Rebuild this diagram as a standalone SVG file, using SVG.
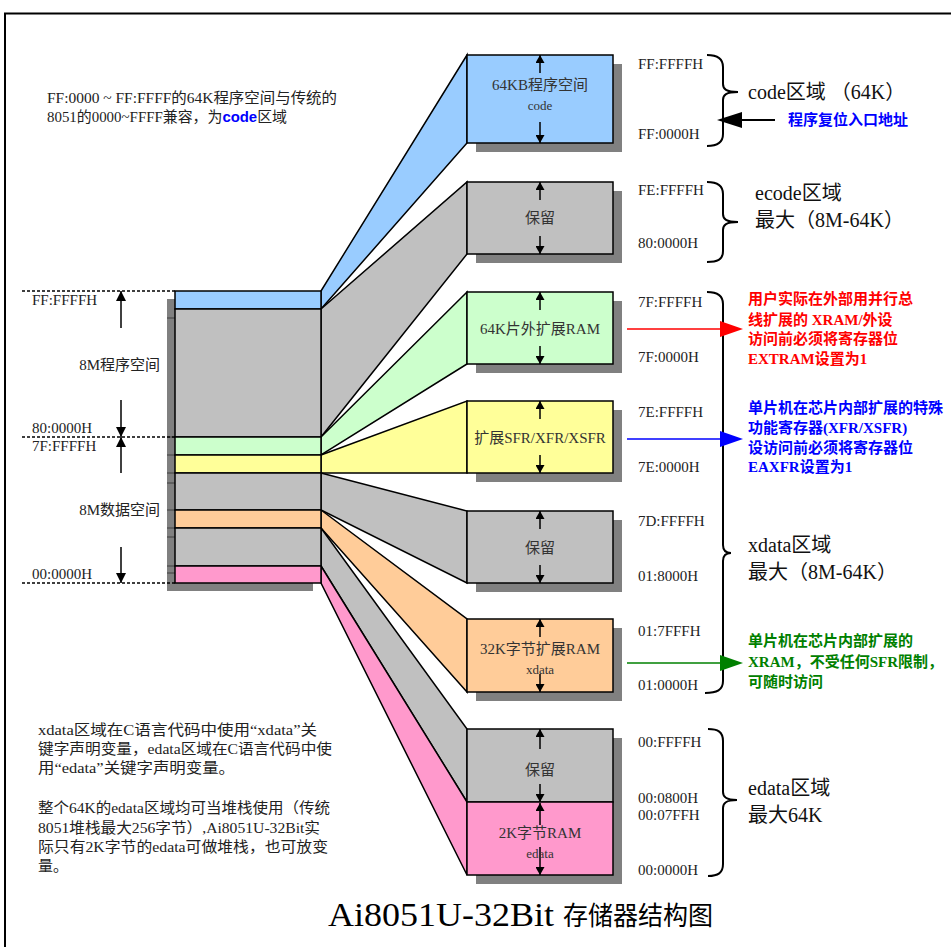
<svg xmlns="http://www.w3.org/2000/svg" width="951" height="947" viewBox="0 0 951 947">
<defs>
<style>
text{font-family:"Liberation Serif","Noto Sans CJK SC",serif}
.addr{font-size:15px;fill:#222}
.lbl{font-size:15px;fill:#333;text-anchor:middle}
.sm{font-size:13px;fill:#333;text-anchor:middle}
.note{font-size:15px;fill:#222}
.big{font-size:20px;fill:#111}
.cn{font-size:15px;font-weight:bold}
.bx{stroke:#000;stroke-width:1.5}
.sh{fill:#808080}
.blue{fill:#99ccff}.gray{fill:#c0c0c0}.green{fill:#ccffcc}.yellow{fill:#ffff99}.orange{fill:#ffcc99}.pink{fill:#ff99cc}
.dot{stroke:#000;stroke-width:1.5;stroke-dasharray:3,2;fill:none}
.brace{fill:none;stroke:#000;stroke-width:2}
.ar{stroke:#000;stroke-width:1.5;fill:none}
.tick{stroke:#555;stroke-width:1.5}
</style>
<marker id="ah" viewBox="0 0 10 10" refX="10" refY="5" markerWidth="8" markerHeight="9" markerUnits="userSpaceOnUse" orient="auto" preserveAspectRatio="none"><path d="M0,0 L10,5 L0,10 z" fill="#000"/></marker>
<marker id="ahL" viewBox="0 0 10 10" refX="10" refY="5" markerWidth="10" markerHeight="10" markerUnits="userSpaceOnUse" orient="auto" preserveAspectRatio="none"><path d="M0,0 L10,5 L0,10 z" fill="#000"/></marker>
</defs>
<rect width="951" height="947" fill="#fff"/>
<!-- frame -->
<path d="M5,947 L5,13.5 L951,13.5" fill="none" stroke="#000" stroke-width="2"/>

<!-- top-left note -->
<g id="note-top">
<text class="note" x="47" y="103" textLength="290" lengthAdjust="spacingAndGlyphs">FF:0000 ~ FF:FFFF的64K程序空间与传统的</text>
<text class="note" x="47" y="122" textLength="240" lengthAdjust="spacingAndGlyphs">8051的0000~FFFF兼容，为<tspan fill="#0000ff" font-weight="bold" font-family="Liberation Sans, sans-serif">code</tspan>区域</text>
</g>

<!-- connectors (trapezoids) -->
<g id="connectors">
<polygon class="bx blue" points="321,291 467,55 467,143 321,309"/>
<polygon class="bx gray" points="321,309 467,182 467,254 321,437"/>
<polygon class="bx green" points="321,437 467,292 467,364 321,455"/>
<polygon class="bx yellow" points="321,455 467,401 467,473 321,473"/>
<polygon class="bx gray" points="321,473 467,511 467,583 321,510"/>
<polygon class="bx orange" points="321,510 467,619 467,692 321,528"/>
<polygon class="bx gray" points="321,528 467,729 467,802 321,566"/>
<polygon class="bx pink" points="321,566 467,802 467,875 321,583"/>
</g>

<!-- left memory bar -->
<g id="left-bar">
<rect class="sh" x="167" y="299" width="146" height="292"/>
<line class="tick" x1="167" y1="318" x2="175" y2="318"/>
<line class="tick" x1="167" y1="437" x2="175" y2="437"/>
<line class="tick" x1="167" y1="455" x2="175" y2="455"/>
<line class="tick" x1="167" y1="473" x2="175" y2="473"/>
<line class="tick" x1="167" y1="483" x2="175" y2="483"/>
<line class="tick" x1="167" y1="510" x2="175" y2="510"/>
<line class="tick" x1="167" y1="528" x2="175" y2="528"/>
<line class="tick" x1="167" y1="537" x2="175" y2="537"/>
<line class="tick" x1="167" y1="566" x2="175" y2="566"/>
<line class="tick" x1="167" y1="573" x2="175" y2="573"/>
<rect class="bx blue" x="175" y="291" width="146" height="18"/>
<rect class="bx gray" x="175" y="309" width="146" height="128"/>
<rect class="bx green" x="175" y="437" width="146" height="18"/>
<rect class="bx yellow" x="175" y="455" width="146" height="18"/>
<rect class="bx gray" x="175" y="473" width="146" height="37"/>
<rect class="bx orange" x="175" y="510" width="146" height="18"/>
<rect class="bx gray" x="175" y="528" width="146" height="38"/>
<rect class="bx pink" x="175" y="566" width="146" height="17"/>
</g>

<g id="left-labels">
<line class="dot" x1="22" y1="291" x2="175" y2="291"/>
<line class="dot" x1="22" y1="437" x2="175" y2="437"/>
<line class="dot" x1="22" y1="583" x2="175" y2="583"/>
<text class="addr" x="32" y="305">FF:FFFFH</text>
<text class="addr" x="32" y="433">80:0000H</text>
<text class="addr" x="32" y="451">7F:FFFFH</text>
<text class="addr" x="32" y="579">00:0000H</text>
<line class="ar" x1="121" y1="328" x2="121" y2="291" marker-end="url(#ahL)"/>
<line class="ar" x1="121" y1="400" x2="121" y2="437" marker-end="url(#ahL)"/>
<line class="ar" x1="121" y1="473" x2="121" y2="437" marker-end="url(#ahL)"/>
<line class="ar" x1="121" y1="547" x2="121" y2="583" marker-end="url(#ahL)"/>
<text class="note" x="160" y="370" text-anchor="end">8M程序空间</text>
<text class="note" x="160" y="515" text-anchor="end">8M数据空间</text>
</g>

<!-- right boxes -->
<g id="box-code">
<rect class="sh" x="476" y="64" width="146" height="88"/>
<rect class="bx blue" x="467" y="55" width="146" height="88"/>
<line class="ar" x1="540" y1="73" x2="540" y2="55" marker-end="url(#ah)"/>
<line class="ar" x1="540" y1="122" x2="540" y2="143" marker-end="url(#ah)"/>
<text class="lbl" x="540" y="90">64KB程序空间</text>
<text class="sm" x="540" y="110">code</text>
</g>
<g id="box-ecode">
<rect class="sh" x="476" y="191" width="146" height="72"/>
<rect class="bx gray" x="467" y="182" width="146" height="72"/>
<line class="ar" x1="540" y1="200" x2="540" y2="182" marker-end="url(#ah)"/>
<line class="ar" x1="540" y1="236" x2="540" y2="254" marker-end="url(#ah)"/>
<text class="lbl" x="540" y="223">保留</text>
</g>
<g id="box-xram">
<rect class="sh" x="476" y="301" width="146" height="72"/>
<rect class="bx green" x="467" y="292" width="146" height="72"/>
<line class="ar" x1="540" y1="310" x2="540" y2="292" marker-end="url(#ah)"/>
<line class="ar" x1="540" y1="346" x2="540" y2="364" marker-end="url(#ah)"/>
<text class="lbl" x="540" y="334">64K片外扩展RAM</text>
</g>
<g id="box-xsfr">
<rect class="sh" x="476" y="410" width="146" height="72"/>
<rect class="bx yellow" x="467" y="401" width="146" height="72"/>
<line class="ar" x1="540" y1="419" x2="540" y2="401" marker-end="url(#ah)"/>
<line class="ar" x1="540" y1="455" x2="540" y2="473" marker-end="url(#ah)"/>
<text class="lbl" x="540" y="443">扩展SFR/XFR/XSFR</text>
</g>
<g id="box-res2">
<rect class="sh" x="476" y="520" width="146" height="72"/>
<rect class="bx gray" x="467" y="511" width="146" height="72"/>
<line class="ar" x1="540" y1="529" x2="540" y2="511" marker-end="url(#ah)"/>
<line class="ar" x1="540" y1="565" x2="540" y2="583" marker-end="url(#ah)"/>
<text class="lbl" x="540" y="553">保留</text>
</g>
<g id="box-xdata">
<rect class="sh" x="476" y="628" width="146" height="73"/>
<rect class="bx orange" x="467" y="619" width="146" height="73"/>
<line class="ar" x1="540" y1="637" x2="540" y2="619" marker-end="url(#ah)"/>
<line class="ar" x1="540" y1="674" x2="540" y2="692" marker-end="url(#ah)"/>
<text class="lbl" x="540" y="654">32K字节扩展RAM</text>
<text class="sm" x="540" y="674">xdata</text>
</g>
<g id="box-edata">
<rect class="sh" x="476" y="738" width="146" height="146"/>
<rect class="bx gray" x="467" y="729" width="146" height="73"/>
<rect class="bx pink" x="467" y="802" width="146" height="73"/>
<line class="ar" x1="540" y1="749" x2="540" y2="729" marker-end="url(#ah)"/>
<line class="ar" x1="540" y1="784" x2="540" y2="802" marker-end="url(#ah)"/>
<line class="ar" x1="540" y1="825" x2="540" y2="803" marker-end="url(#ah)"/>
<line class="ar" x1="540" y1="847" x2="540" y2="875" marker-end="url(#ah)"/>
<text class="lbl" x="540" y="775">保留</text>
<text class="lbl" x="540" y="838">2K字节RAM</text>
<text class="sm" x="540" y="858">edata</text>
</g>

<!-- address labels -->
<g id="addresses">
<text class="addr" x="638" y="69">FF:FFFFH</text>
<text class="addr" x="638" y="139">FF:0000H</text>
<text class="addr" x="638" y="195">FE:FFFFH</text>
<text class="addr" x="638" y="248">80:0000H</text>
<text class="addr" x="638" y="307">7F:FFFFH</text>
<text class="addr" x="638" y="362">7F:0000H</text>
<text class="addr" x="638" y="417">7E:FFFFH</text>
<text class="addr" x="638" y="472">7E:0000H</text>
<text class="addr" x="638" y="526">7D:FFFFH</text>
<text class="addr" x="638" y="581">01:8000H</text>
<text class="addr" x="638" y="636">01:7FFFH</text>
<text class="addr" x="638" y="690">01:0000H</text>
<text class="addr" x="638" y="747">00:FFFFH</text>
<text class="addr" x="638" y="803">00:0800H</text>
<text class="addr" x="638" y="820">00:07FFH</text>
<text class="addr" x="638" y="875">00:0000H</text>
</g>

<!-- braces -->
<g id="braces">
<path class="brace" d="M707,55 C717,55 723,58 723,67 L723,84 C723,89 726,92 738,92 C726,92 723,95 723,100 L723,134 C723,143 717,146 707,146"/>
<path class="brace" d="M707,182 C717,182 723,185 723,194 L723,214 C723,219 726,222 738,222 C726,222 723,225 723,230 L723,251 C723,260 717,262 707,262"/>
<path class="brace" d="M707,292 C717,292 723,295 723,304 L723,545 C723,550 725,553 731,553 C725,553 723,556 723,561 L723,681 C723,690 717,693 705,693"/>
<path class="brace" d="M708,729 C718,729 723,732 723,741 L723,792 C723,797 726,800 737,800 C726,800 723,803 723,808 L723,864 C723,873 718,876 708,876"/>
</g>

<!-- region labels -->
<g id="region-labels">
<text class="big" x="748" y="99">code区域 （64K）</text>
<text class="big" x="755" y="200">ecode区域</text>
<text class="big" x="755" y="227">最大（8M-64K）</text>
<text class="big" x="748" y="552">xdata区域</text>
<text class="big" x="748" y="579">最大（8M-64K）</text>
<text class="big" x="748" y="795">edata区域</text>
<text class="big" x="748" y="822">最大64K</text>
</g>

<!-- pointer arrows and notes -->
<g id="reset-arrow">
<line x1="741" y1="120" x2="775" y2="120" stroke="#000" stroke-width="2"/>
<polygon points="717,120 742,112 742,128" fill="#000"/>
<text class="cn" x="788" y="125" fill="#0000ff">程序复位入口地址</text>
</g>
<g id="note-red">
<line x1="627" y1="329" x2="722" y2="329" stroke="#ff0000" stroke-width="1.5"/>
<polygon points="720,321 743,329 720,337" fill="#ff0000"/>
<text class="cn" fill="#ff0000" x="748" y="304">用户实际在外部用并行总</text>
<text class="cn" fill="#ff0000" x="748" y="325">线扩展的 XRAM/外设</text>
<text class="cn" fill="#ff0000" x="748" y="344">访问前必须将寄存器位</text>
<text class="cn" fill="#ff0000" x="748" y="364">EXTRAM设置为1</text>
</g>
<g id="note-blue">
<line x1="627" y1="439" x2="722" y2="439" stroke="#0000ff" stroke-width="1.5"/>
<polygon points="720,431 743,439 720,447" fill="#0000ff"/>
<text class="cn" fill="#0000ff" x="748" y="413">单片机在芯片内部扩展的特殊</text>
<text class="cn" fill="#0000ff" x="748" y="433">功能寄存器(XFR/XSFR)</text>
<text class="cn" fill="#0000ff" x="748" y="453">设访问前必须将寄存器位</text>
<text class="cn" fill="#0000ff" x="748" y="472">EAXFR设置为1</text>
</g>
<g id="note-green">
<line x1="627" y1="663" x2="722" y2="663" stroke="#008000" stroke-width="1.5"/>
<polygon points="720,655 743,663 720,671" fill="#008000"/>
<text class="cn" fill="#008000" x="748" y="646">单片机在芯片内部扩展的</text>
<text class="cn" fill="#008000" x="748" y="667">XRAM，不受任何SFR限制，</text>
<text class="cn" fill="#008000" x="748" y="687">可随时访问</text>
</g>

<!-- bottom-left notes -->
<g id="note-bottom">
<text class="note" x="38" y="735" textLength="279" lengthAdjust="spacingAndGlyphs">xdata区域在C语言代码中使用“xdata”关</text>
<text class="note" x="38" y="754" textLength="294" lengthAdjust="spacingAndGlyphs">键字声明变量，edata区域在C语言代码中使</text>
<text class="note" x="38" y="773" textLength="197" lengthAdjust="spacingAndGlyphs">用“edata”关键字声明变量。</text>
<text class="note" x="38" y="813" textLength="292" lengthAdjust="spacingAndGlyphs">整个64K的edata区域均可当堆栈使用（传统</text>
<text class="note" x="38" y="833" textLength="282" lengthAdjust="spacingAndGlyphs">8051堆栈最大256字节）,Ai8051U-32Bit实</text>
<text class="note" x="38" y="852" textLength="290" lengthAdjust="spacingAndGlyphs">际只有2K字节的edata可做堆栈，也可放变</text>
<text class="note" x="38" y="871">量。</text>
</g>

<!-- title -->
<g id="title">
<text x="328" y="926" font-size="33" fill="#000" textLength="226" lengthAdjust="spacingAndGlyphs">Ai8051U-32Bit</text>
<text x="563" y="925" font-size="26" fill="#000" textLength="150" lengthAdjust="spacingAndGlyphs">存储器结构图</text>
</g>
</svg>
